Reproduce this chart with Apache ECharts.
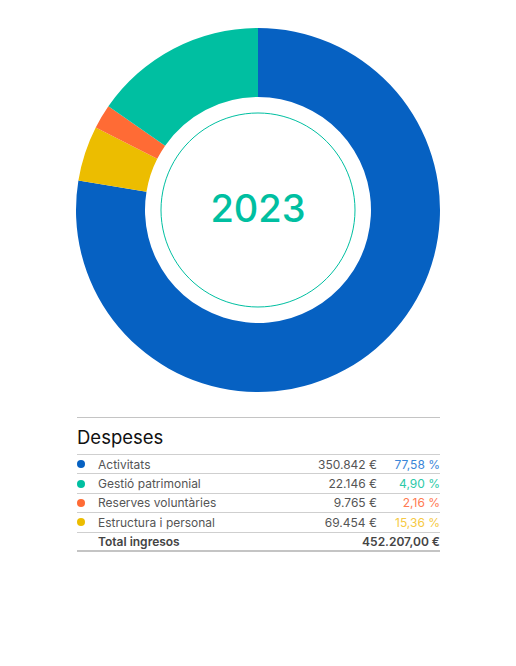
<!DOCTYPE html>
<html>
<head>
<meta charset="utf-8">
<script src="https://cdn.jsdelivr.net/npm/echarts@6/dist/echarts.min.js"></script>
<style>
  body { margin: 0; background: #fff; font-family: Inter, "Noto Sans", sans-serif; }
  #main { width: 516px; height: 410px; }
  #taula { position: absolute; left: 77px; top: 417px; width: 363px; border-top: 1px solid #c4c4c4; color: #555; }
  #taula .titol { height: 36px; line-height: 38px; font-size: 18.5px; color: #111; }
  #taula .fila { display: flex; align-items: center; height: 19.4px; box-sizing: border-box; border-top: 1px solid #cfcfcf; font-size: 12px; }
  #taula .punt { width: 8px; height: 8px; border-radius: 50%; margin: 0 13px 0 0; }
  #taula .nom { flex: 1; }
  #taula .val { width: 90px; text-align: right; }
  #taula .pct { width: 63px; text-align: right; }
  #taula .total { font-weight: 600; color: #444; border-bottom: 2px solid #c4c4c4; height: 20.5px; }
</style>
</head>
<body>
<div id="main"></div>
<div id="taula"></div>
<script type="text/javascript">
  // dades
  var titol = 'Despeses';
  var any = '2023';
  var categories = ['Activitats', 'Gestió patrimonial', 'Reserves voluntàries', 'Estructura i personal'];
  var valors = [350842, 22146, 9765, 69454];
  var valorsText = ['350.842 €', '22.146 €', '9.765 €', '69.454 €'];
  var percentatges = ['77,58 %', '4,90 %', '2,16 %', '15,36 %'];
  var totalNom = 'Total ingresos';
  var totalText = '452.207,00 €';

  // colors (al gràfic el verd i el groc estan intercanviats respecte a la taula)
  var colorsPastis = ['#0661c2', '#ecbd00', '#ff6b35', '#00bfa1'];
  var colorsPunt = ['#0661c2', '#00bfa1', '#ff6b35', '#ecbd00'];
  var colorsPct = ['#3a86d8', '#2ccaa9', '#ff7a52', '#f6c943'];

  var myChart = echarts.init(document.getElementById('main'), null, { renderer: 'svg' });

  var option = {
    animation: false,
    graphic: [
      {
        type: 'circle',
        shape: { cx: 258, cy: 210, r: 97 },
        style: { fill: 'none', stroke: '#00bfa1', lineWidth: 1 }
      },
      {
        type: 'text',
        x: 258, y: 208,
        style: {
          text: any, fill: '#00bfa1', font: '500 38px Inter, sans-serif',
          align: 'center', verticalAlign: 'middle'
        }
      }
    ],
    series: [
      {
        type: 'pie',
        center: [258, 210],
        radius: [113, 182],
        startAngle: 90,
        clockwise: true,
        label: { show: false },
        labelLine: { show: false },
        emphasis: { disabled: true },
        itemStyle: { borderWidth: 0 },
        data: categories.map(function (c, i) {
          return { name: c, value: valors[i], itemStyle: { color: colorsPastis[i] } };
        })
      }
    ]
  };

  myChart.setOption(option);

  // taula
  var html = '<div class="titol">' + titol + '</div>';
  categories.forEach(function (c, i) {
    html += '<div class="fila"><span class="punt" style="background:' + colorsPunt[i] + '"></span>' +
      '<span class="nom">' + c + '</span>' +
      '<span class="val">' + valorsText[i] + '</span>' +
      '<span class="pct" style="color:' + colorsPct[i] + '">' + percentatges[i] + '</span></div>';
  });
  html += '<div class="fila total"><span class="punt"></span><span class="nom">' + totalNom + '</span>' +
    '<span class="val" style="width:150px">' + totalText + '</span></div>';
  document.getElementById('taula').innerHTML = html;
</script>
</body>
</html>
